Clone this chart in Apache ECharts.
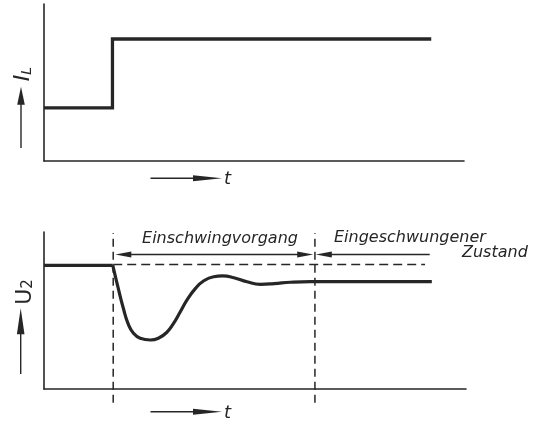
<!DOCTYPE html>
<html>
<head>
<meta charset="utf-8">
<script src="https://cdn.jsdelivr.net/npm/echarts@6/dist/echarts.min.js"></script>
<style>
html,body{margin:0;padding:0;background:#fff;}
#c{width:542px;height:427px;}
</style>
</head>
<body>
<div id="c"></div>
<script>
// ---- data (time t and value v in arbitrary units 0..100) ----
const ilT = [0, 16.3, 16.3, 92.2];
const ilV = [33.8, 33.8, 77.7, 77.7];

const u2PreT = [0, 16.3];
const u2PreV = [78.8, 78.8];

const u2T = [16.3, 17.6, 18.8, 19.9, 21.2, 22.8, 25.2, 27.1, 29.1, 30.7, 32.3, 33.9, 35.9, 37.8, 40.2, 42.3, 45.0, 48.1, 51.3, 54.5, 58.4, 63.2, 91.9];
const u2V = [78.8, 64.1, 51.4, 41.8, 35.5, 32.3, 31.2, 32.3, 36.1, 41.8, 49.2, 56.7, 64.1, 68.8, 71.5, 72.0, 70.9, 68.3, 66.7, 67.1, 68.0, 68.4, 68.4];

const refT = [16.4, 90.3];      // dashed reference (initial level)
const refV = [79.3, 79.3];

const markT = [16.4, 64.2];     // dashed vertical markers
const markV = [-8.7, 99.4];

const arrowV = 85.7;
const arrow1T = [18.8, 61.9];   // Einschwingvorgang (arrow centres)
const arrow2T = [66.3, 91.4];   // Eingeschwungener Zustand

const labels = {
  transient: 'Einschwingvorgang',
  steady1: 'Eingeschwungener',
  steady2: 'Zustand',
  t: 't'
};

const ink = '#262626';
const zip = (a, b) => a.map((x, i) => [x, b[i]]);

const chart = echarts.init(document.getElementById('c'), null, {renderer: 'canvas'});

const axisCommon = {
  type: 'value', min: 0, max: 100,
  axisLine: {show: true, onZero: false, lineStyle: {color: ink, width: 1.6}},
  axisTick: {show: false}, axisLabel: {show: false}, splitLine: {show: false}
};

const font = 'DejaVu Sans';

function hArrow(y) {
  return [
    {type: 'line', shape: {x1: 150.5, y1: y, x2: 200, y2: y}, style: {stroke: ink, lineWidth: 1.4}},
    {type: 'polygon', shape: {points: [[193, y - 3], [222, y], [193, y + 3]]}, style: {fill: ink}}
  ];
}
function vArrow(x, yBottom, yTip, headLen) {
  return [
    {type: 'line', shape: {x1: x, y1: yBottom, x2: x, y2: yTip + headLen - 2}, style: {stroke: ink, lineWidth: 1.4}},
    {type: 'polygon', shape: {points: [[x - 3.8, yTip + headLen], [x, yTip], [x + 3.8, yTip + headLen]]}, style: {fill: ink}}
  ];
}

const option = {
  animation: false,
  backgroundColor: '#fff',
  grid: [
    {left: 44, top: 4, width: 420, height: 157},
    {left: 44, top: 232, width: 422, height: 157}
  ],
  xAxis: [
    Object.assign({gridIndex: 0}, axisCommon),
    Object.assign({gridIndex: 1}, axisCommon)
  ],
  yAxis: [
    Object.assign({gridIndex: 0}, axisCommon),
    Object.assign({gridIndex: 1}, axisCommon)
  ],
  series: [
    {
      type: 'line', xAxisIndex: 0, yAxisIndex: 0, data: zip(ilT, ilV),
      showSymbol: false, lineStyle: {color: ink, width: 3.3, join: 'miter'}
    },
    {
      type: 'line', xAxisIndex: 1, yAxisIndex: 1, data: zip(u2PreT, u2PreV),
      showSymbol: false, lineStyle: {color: ink, width: 3.2}
    },
    {
      type: 'line', xAxisIndex: 1, yAxisIndex: 1, data: zip(u2T, u2V),
      showSymbol: false, smooth: 0.5, lineStyle: {color: ink, width: 3.2}
    },
    {
      type: 'line', xAxisIndex: 1, yAxisIndex: 1, data: zip(refT, refV),
      showSymbol: false, lineStyle: {color: ink, width: 1.5, type: [9, 5]},
      markLine: {
        silent: true, animation: false,
        symbol: ['none', 'none'],
        lineStyle: {color: ink, width: 1.3, type: 'solid'},
        label: {show: false},
        data: [
          [
            {coord: [arrow1T[0], arrowV], symbol: 'triangle', symbolSize: [6, 16]},
            {coord: [arrow1T[1], arrowV], symbol: 'triangle', symbolSize: [6, 16]}
          ],
          [
            {coord: [arrow2T[0], arrowV], symbol: 'triangle', symbolSize: [6, 16]},
            {coord: [arrow2T[1], arrowV], symbol: 'none'}
          ]
        ]
      }
    },
    {
      type: 'line', xAxisIndex: 1, yAxisIndex: 1, data: zip([markT[0], markT[0]], markV),
      showSymbol: false, clip: false, lineStyle: {color: ink, width: 1.5, type: [8, 5]}
    },
    {
      type: 'line', xAxisIndex: 1, yAxisIndex: 1, data: zip([markT[1], markT[1]], markV),
      showSymbol: false, clip: false, lineStyle: {color: ink, width: 1.5, type: [8, 5]}
    }
  ],
  graphic: [
    ...hArrow(178.3),
    {type: 'text', x: 224, y: 179, style: {text: labels.t, font: 'italic 18px "' + font + '"', fill: ink, textAlign: 'left', textVerticalAlign: 'middle'}},
    ...hArrow(411.7),
    {type: 'text', x: 224, y: 413, style: {text: labels.t, font: 'italic 18px "' + font + '"', fill: ink, textAlign: 'left', textVerticalAlign: 'middle'}},
    ...vArrow(21, 148, 86.7, 18),
    {type: 'text', x: 23, y: 74, rotation: Math.PI / 2, style: {
      text: '{a|I}{b|L}', fill: ink, textAlign: 'center', textVerticalAlign: 'middle',
      rich: {a: {fontFamily: font, fontStyle: 'italic', fontSize: 22, fill: ink}, b: {fontFamily: font, fontStyle: 'italic', fontSize: 14, fill: ink, verticalAlign: 'bottom'}}
    }},
    ...vArrow(20.7, 374, 308.3, 26),
    {type: 'text', x: 25, y: 292, rotation: Math.PI / 2, style: {
      text: '{a|U}{b|2}', fill: ink, textAlign: 'center', textVerticalAlign: 'middle',
      rich: {a: {fontFamily: font, fontSize: 22, fill: ink}, b: {fontFamily: font, fontSize: 15, fill: ink, verticalAlign: 'bottom'}}
    }},
    {type: 'text', x: 220, y: 239, style: {text: labels.transient, font: 'italic 16px "' + font + '"', fill: ink, textAlign: 'center', textVerticalAlign: 'middle'}},
    {type: 'text', x: 334, y: 238, style: {text: labels.steady1, font: 'italic 16px "' + font + '"', fill: ink, textAlign: 'left', textVerticalAlign: 'middle'}},
    {type: 'text', x: 462, y: 253, style: {text: labels.steady2, font: 'italic 16px "' + font + '"', fill: ink, textAlign: 'left', textVerticalAlign: 'middle'}}
  ]
};

chart.setOption(option);
</script>
</body>
</html>
